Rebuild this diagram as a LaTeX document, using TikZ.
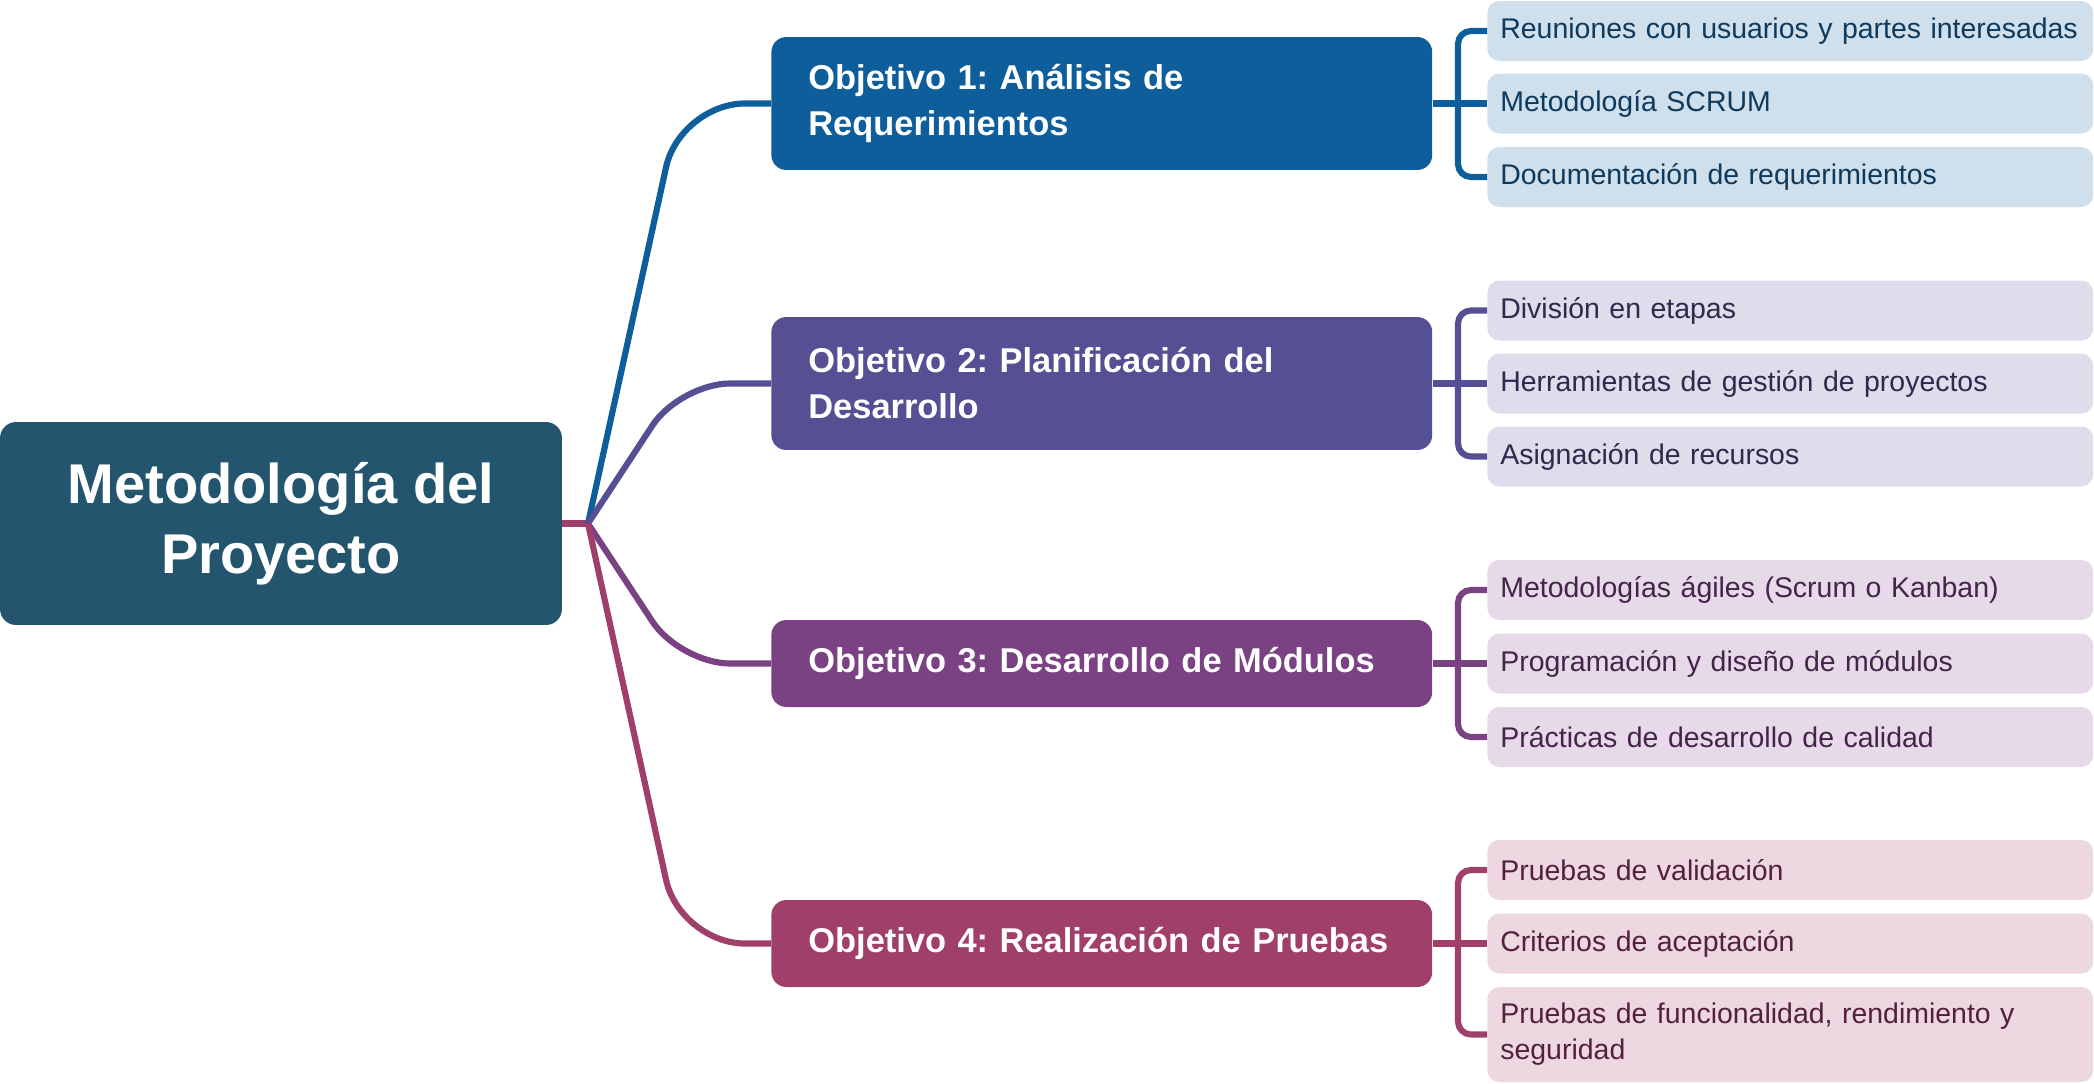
\documentclass[tikz,border=0pt]{standalone}
\usepackage{fontspec}
\setmainfont{Liberation Sans}
\frenchspacing
\usetikzlibrary{calc}
\definecolor{rootc}{HTML}{23556F}
\definecolor{c1}{HTML}{0E5E9B}
\definecolor{c2}{HTML}{554F94}
\definecolor{c3}{HTML}{7A4183}
\definecolor{c4}{HTML}{A03F69}
\definecolor{f1}{HTML}{CFDFEB}
\definecolor{f2}{HTML}{DEDDEB}
\definecolor{f3}{HTML}{E7DAE8}
\definecolor{f4}{HTML}{EDD8E2}
\definecolor{t1}{HTML}{0E3A5E}
\definecolor{t2}{HTML}{2D2A4D}
\definecolor{t3}{HTML}{45244B}
\definecolor{t4}{HTML}{55213A}
\begin{document}
\begin{tikzpicture}[x=0.02cm,y=-0.02cm,
    root/.style={fill=rootc,text=white,rounded corners=0.32cm,minimum width=11.24cm,minimum height=4.06cm,
      align=center,font=\bfseries\fontsize{31.9pt}{39.8pt}\selectfont},
    obj/.style={anchor=west,fill=c#1,text=white,rounded corners=0.3cm,text width=11.74cm,inner xsep=0.74cm,
      inner ysep=0pt,align=left,font=\bfseries\fontsize{19.6pt}{26.2pt}\selectfont},
    leaf/.style={anchor=west,fill=f#1,text=t#1,rounded corners=0.24cm,text width=11.6cm,inner xsep=0.26cm,
      inner ysep=0pt,minimum height=1.2cm,align=left,font=\fontsize{16.2pt}{20.5pt}\selectfont},
    link/.style={draw=c#1,line width=3.5pt,rounded corners=1.3cm},
    brace/.style={draw=c#1,line width=3.5pt,rounded corners=0.26cm}]
  \useasboundingbox (0,0) rectangle (2094,1083);
  \node[root] (root) at (281,523.5) {Metodología del\\Proyecto};
  \coordinate (hub) at (588,523.5);

  \node[obj=1,minimum height=2.66cm] (o1) at (771,103.5) {Objetivo 1: Análisis de\\Requerimientos};
  \node[obj=2,minimum height=2.66cm] (o2) at (771,383.5) {Objetivo 2: Planificación del\\Desarrollo};
  \node[obj=3,minimum height=1.74cm] (o3) at (771,663.5) {Objetivo 3: Desarrollo de Módulos};
  \node[obj=4,minimum height=1.74cm] (o4) at (771,943.5) {Objetivo 4: Realización de Pruebas};

  \node[leaf=1] (a1) at (1487,31) {Reuniones con usuarios y partes interesadas};
  \node[leaf=1] (a2) at (1487,103.5) {Metodología SCRUM};
  \node[leaf=1] (a3) at (1487,177) {Documentación de requerimientos};
  \node[leaf=2] (b1) at (1487,310.5) {División en etapas};
  \node[leaf=2] (b2) at (1487,383.5) {Herramientas de gestión de proyectos};
  \node[leaf=2] (b3) at (1487,456.5) {Asignación de recursos};
  \node[leaf=3] (d1) at (1487,590) {Metodologías ágiles (Scrum o Kanban)};
  \node[leaf=3] (d2) at (1487,663.5) {Programación y diseño de módulos};
  \node[leaf=3] (d3) at (1487,737) {Prácticas de desarrollo de calidad};
  \node[leaf=4] (e1) at (1487,870) {Pruebas de validación};
  \node[leaf=4] (e2) at (1487,943.5) {Criterios de aceptación};
  \node[leaf=4,minimum height=1.9cm] (e3) at (1487,1034.5) {Pruebas de funcionalidad, rendimiento y\\seguridad};

  \draw[link=1] (root.east) -- (hub);
  \draw[link=2] (root.east) -- (hub);
  \draw[link=3] (root.east) -- (hub);
  \draw[link=4] (root.east) -- (hub);
  \draw[link=1] (hub) -- ([xshift=-1.82cm]o1.west) -- (o1.west);
  \draw[link=2,rounded corners=1cm] (hub) -- ([xshift=-1.82cm]o2.west) -- (o2.west);
  \draw[link=3,rounded corners=1cm] (hub) -- ([xshift=-1.82cm]o3.west) -- (o3.west);
  \draw[link=4] (hub) -- ([xshift=-1.82cm]o4.west) -- (o4.west);

  \draw[brace=1] (a1.west) -- ++(-29,0) |- (a3.west);
  \draw[brace=1] (o1.east) -- (a2.west);
  \draw[brace=2] (b1.west) -- ++(-29,0) |- (b3.west);
  \draw[brace=2] (o2.east) -- (b2.west);
  \draw[brace=3] (d1.west) -- ++(-29,0) |- (d3.west);
  \draw[brace=3] (o3.east) -- (d2.west);
  \draw[brace=4] (e1.west) -- ++(-29,0) |- (e3.west);
  \draw[brace=4] (o4.east) -- (e2.west);
\end{tikzpicture}
\end{document}
